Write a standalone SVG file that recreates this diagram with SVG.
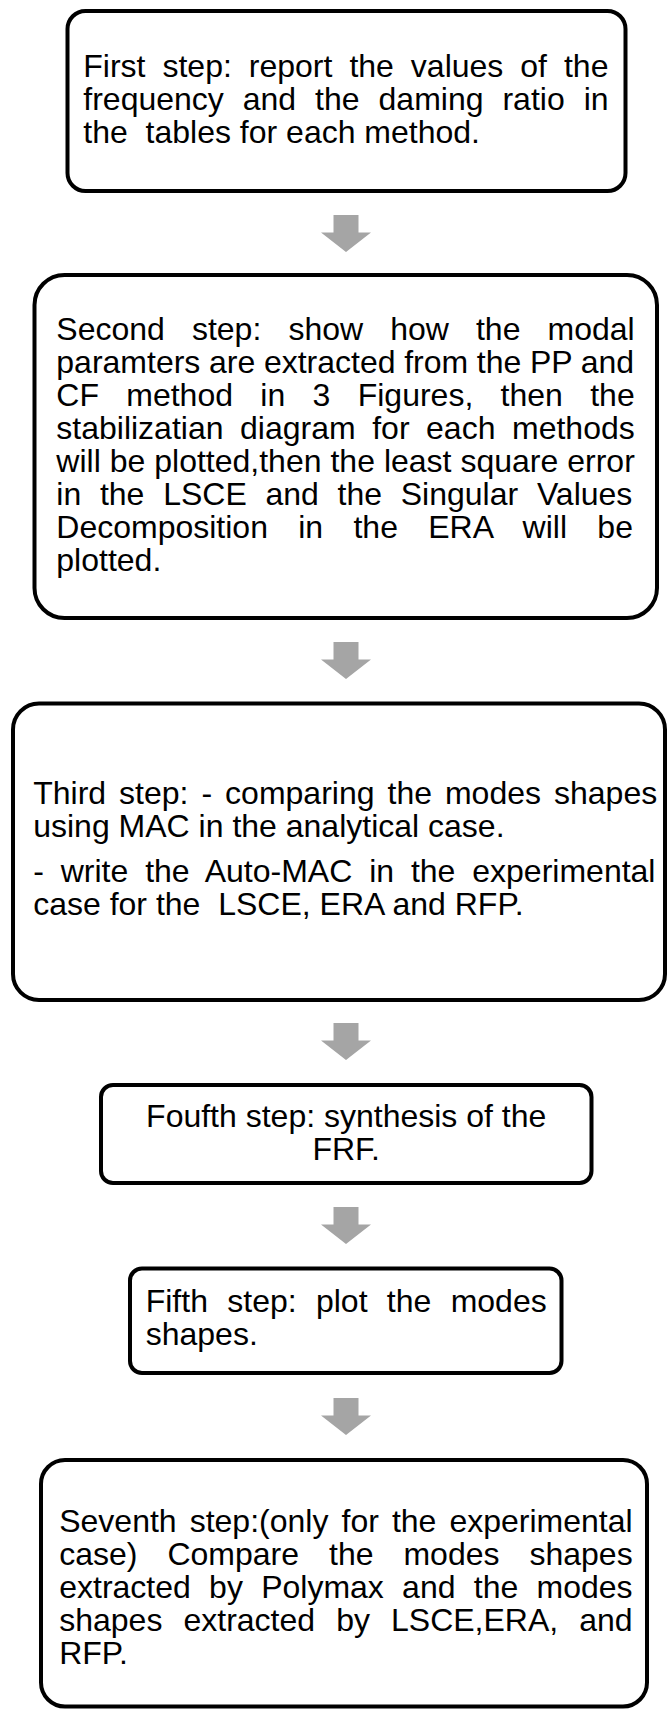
<svg xmlns="http://www.w3.org/2000/svg" width="667" height="1710" viewBox="0 0 667 1710">
<style>
.box{fill:#fff;stroke:#000;stroke-width:4}
.t{font-family:"Liberation Sans",Arial,sans-serif;font-size:32px;fill:#000}
.pre{white-space:pre}
.arrow{fill:#a5a5a5}
</style>
<rect width="667" height="1710" fill="#fff"/>
<g id="connectors">
<polygon class="arrow" points="333.5,215 358.5,215 358.5,232.5 371,232.5 346,252 321,232.5 333.5,232.5"/>
<polygon class="arrow" points="333.5,642 358.5,642 358.5,659.5 371,659.5 346,679 321,659.5 333.5,659.5"/>
<polygon class="arrow" points="333.5,1023 358.5,1023 358.5,1040.5 371,1040.5 346,1060 321,1040.5 333.5,1040.5"/>
<polygon class="arrow" points="333.5,1207 358.5,1207 358.5,1224.5 371,1224.5 346,1244 321,1224.5 333.5,1224.5"/>
<polygon class="arrow" points="333.5,1398 358.5,1398 358.5,1415.5 371,1415.5 346,1435 321,1415.5 333.5,1415.5"/>
</g>
<g id="step1">
<rect class="box" x="67.5" y="11" width="558" height="180" rx="18"/>
<text class="t" x="83.3" y="77" style="word-spacing:8.08px">First step: report the values of the</text>
<text class="t" x="83.3" y="110" style="word-spacing:10.06px">frequency and the daming ratio in</text>
<text class="t pre" x="83.3" y="143">the  tables for each method.</text>
</g>
<g id="step2">
<rect class="box" x="34.5" y="275" width="622.5" height="343" rx="30"/>
<text class="t" x="56.3" y="340" style="word-spacing:18.2px">Second step: show how the modal</text>
<text class="t" x="56.3" y="373" style="word-spacing:-0.23px">paramters are extracted from the PP and</text>
<text class="t" x="56.3" y="406" style="word-spacing:18.43px">CF method in 3 Figures, then the</text>
<text class="t" x="56.3" y="439" style="word-spacing:7.65px">stabilizatian diagram for each methods</text>
<text class="t" x="56.3" y="472" style="word-spacing:0.07px">will be plotted,then the least square error</text>
<text class="t" x="56.3" y="505" style="word-spacing:9.83px">in the LSCE and the Singular Values</text>
<text class="t" x="56.3" y="538" style="word-spacing:21.42px">Decomposition in the ERA will be</text>
<text class="t" x="56.3" y="571">plotted.</text>
</g>
<g id="step3">
<rect class="box" x="13" y="703.5" width="652" height="296.5" rx="26"/>
<text class="t" x="33.2" y="804" style="word-spacing:4.1px">Third step: - comparing the modes shapes</text>
<text class="t" x="33.2" y="837">using MAC in the analytical case.</text>
<text class="t" x="33.2" y="882" style="word-spacing:7.97px">- write the Auto-MAC in the experimental</text>
<text class="t pre" x="33.2" y="915">case for the  LSCE, ERA and RFP.</text>
</g>
<g id="step4">
<rect class="box" x="101" y="1085" width="490.5" height="98" rx="12"/>
<text class="t" x="346.2" y="1127" text-anchor="middle">Foufth step: synthesis of the</text>
<text class="t" x="346.2" y="1160" text-anchor="middle">FRF.</text>
</g>
<g id="step5">
<rect class="box" x="130" y="1268.5" width="431.5" height="104.5" rx="12"/>
<text class="t" x="145.7" y="1312" style="word-spacing:10.43px">Fifth step: plot the modes</text>
<text class="t" x="145.7" y="1345">shapes.</text>
</g>
<g id="step7">
<rect class="box" x="41" y="1460" width="606" height="246.5" rx="24"/>
<text class="t" x="59.2" y="1531.5" style="word-spacing:4.18px">Seventh step:(only for the experimental</text>
<text class="t" x="59.2" y="1564.5" style="word-spacing:21.08px">case) Compare the modes shapes</text>
<text class="t" x="59.2" y="1597.5" style="word-spacing:9.38px">extracted by Polymax and the modes</text>
<text class="t" x="59.2" y="1630.5" style="word-spacing:12.18px">shapes extracted by LSCE,ERA, and</text>
<text class="t" x="59.2" y="1663.5">RFP.</text>
</g>
</svg>
